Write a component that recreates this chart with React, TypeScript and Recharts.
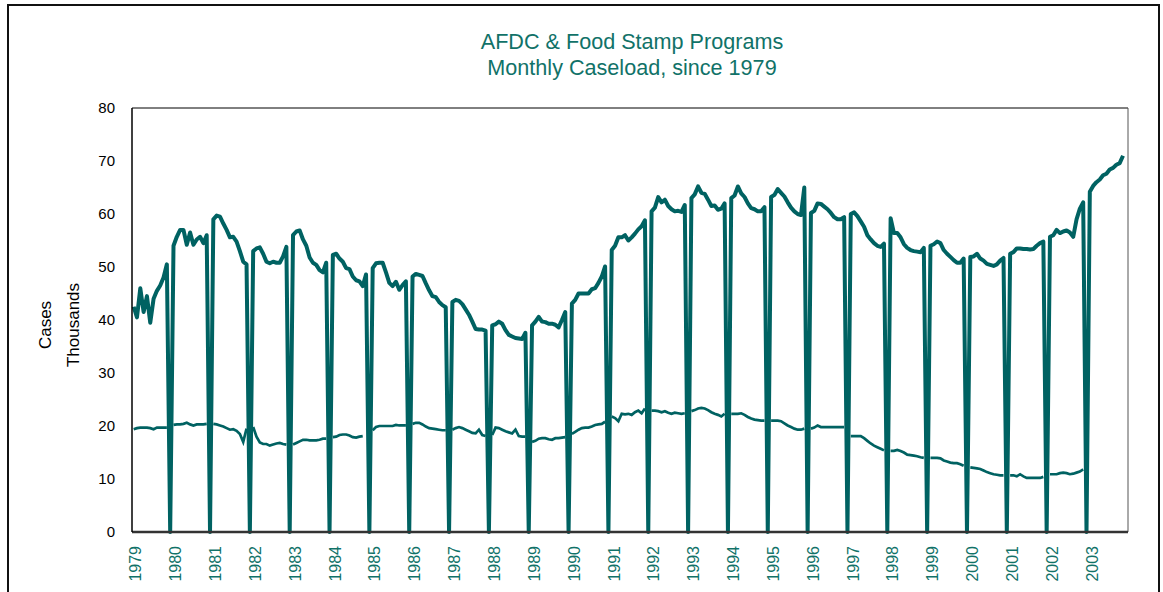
import React from 'react';
import { LineChart, Line, XAxis, YAxis, ReferenceLine } from 'recharts';

// Year tick labels (one tick at each January)
const yearLabels = [
  '1979', '1980', '1981', '1982', '1983', '1984', '1985', '1986', '1987',
  '1988', '1989', '1990', '1991', '1992', '1993', '1994', '1995', '1996',
  '1997', '1998', '1999', '2000', '2001', '2002', '2003',
];

const yTicks = [0, 10, 20, 30, 40, 50, 60, 70, 80];

// Food Stamp cases (thousands), Jan..Dec for each year
const foodStampCases: (number | null)[] = [
  42.5, 40.5, 46, 41.5, 44.5, 39.5, 44, 45.5, 46.5, 48, 50.5, 0,
  54, 55.7, 57, 57, 54.2, 56.5, 54.2, 55.2, 55.7, 54.5, 56, 0,
  59, 59.7, 59.5, 58.2, 57, 55.6, 55.7, 54.8, 53, 51, 50.5, 0,
  53, 53.5, 53.7, 52.5, 51, 50.7, 51, 50.8, 50.8, 52, 53.8, 0,
  56, 56.7, 56.9, 55.2, 54, 51.8, 50.8, 50.4, 49.4, 49, 50.8, 0,
  52.3, 52.5, 51.6, 51, 49.8, 49.6, 48.2, 47.5, 47.3, 46.4, 48.6, 0,
  49.8, 50.7, 50.8, 50.8, 49, 47, 46.4, 47.2, 45.7, 46.6, 47.3, 0,
  48.2, 48.7, 48.5, 48.3, 46.9, 45.6, 44.5, 44.3, 43.4, 42.8, 42.4, 0,
  43.4, 43.8, 43.6, 43, 42, 41, 39.7, 38.3, 38.2, 38.2, 38, 0,
  39, 39.2, 39.7, 39.3, 38.1, 37.2, 36.9, 36.6, 36.5, 36.4, 37.6, 0,
  39, 39.7, 40.6, 39.7, 39.6, 39.3, 39.3, 39.1, 38.6, 40, 41.5, 0,
  43.1, 43.8, 45, 45, 45, 45, 45.8, 46, 47, 48.2, 50.1, 0,
  53.2, 54, 55.6, 55.6, 56, 55, 55.6, 56.3, 57.1, 57.7, 58.8, 0,
  60.5, 61.2, 63.2, 62.2, 62.7, 61.5, 60.9, 60.5, 60.6, 60.4, 61.7, 0,
  63, 63.7, 65.2, 64, 63.8, 62.7, 61.5, 61.6, 60.8, 61, 62, 0,
  63, 63.5, 65.2, 63.9, 63.2, 62, 61.1, 60.9, 60.5, 60.5, 61.3, 0,
  63.2, 63.6, 64.7, 64, 63.3, 62.2, 61.2, 60.5, 60, 59.8, 65, 0,
  60.2, 60.6, 62, 61.9, 61.4, 60.9, 60.2, 59.4, 59, 59, 59.4, 0,
  60, 60.3, 59.6, 58.6, 57.6, 56, 55.2, 54.5, 54, 53.8, 54.4, 0,
  59.2, 56.4, 56.4, 55.6, 54.3, 53.6, 53.2, 53, 52.9, 52.8, 53.6, 0,
  54, 54.3, 54.8, 54.5, 53.2, 52.5, 51.9, 51.3, 50.8, 50.8, 51.6, 0,
  51.9, 52, 52.5, 51.6, 51.2, 50.6, 50.4, 50.2, 50.5, 51.2, 51.7, 0,
  52.5, 52.8, 53.5, 53.5, 53.4, 53.4, 53.3, 53.4, 54, 54.5, 54.8, 0,
  55.7, 56, 57, 56.4, 56.7, 56.9, 56.5, 55.7, 59, 61, 62.2, 0,
  64.2, 65.3, 66, 66.5, 67.3, 67.6, 68.4, 68.7, 69.3, 69.6, 71, null,
];

// AFDC cases (thousands), Jan..Dec for each year
const afdcCases: (number | null)[] = [
  19.4, 19.6, 19.7, 19.7, 19.7, 19.6, 19.4, 19.7, 19.7, 19.7, 19.7, null,
  20.2, 20.3, 20.3, 20.4, 20.6, 20.3, 20.1, 20.3, 20.3, 20.3, 20.4, null,
  20.4, 20.3, 20.1, 19.9, 19.6, 19.3, 19.4, 19.1, 18.5, 17, 19.5, null,
  19.8, 18, 16.9, 16.6, 16.6, 16.3, 16.5, 16.7, 16.8, 16.6, 16.5, null,
  16.5, 16.8, 17.1, 17.4, 17.4, 17.3, 17.3, 17.3, 17.4, 17.6, 17.6, null,
  17.9, 18, 18.3, 18.4, 18.4, 18.2, 17.9, 17.8, 18, 18.1, null, null,
  19.2, 19.8, 20, 20, 20, 20, 20, 20.2, 20.1, 20.1, 20.1, null,
  20.4, 20.6, 20.6, 20.3, 19.9, 19.6, 19.5, 19.4, 19.3, 19.2, 19.2, null,
  19.3, 19.6, 19.8, 19.6, 19.3, 19, 18.7, 18.6, 19.3, 18.3, 18.1, null,
  18.3, 19.7, 19.6, 19.3, 19, 18.8, 18.6, 19.3, 18.1, 18, 18, null,
  17, 17.2, 17.6, 17.7, 17.7, 17.5, 17.4, 17.7, 17.7, 17.8, 17.9, null,
  18.5, 18.9, 19.3, 19.6, 19.7, 19.7, 19.9, 20.2, 20.3, 20.4, 20.8, null,
  21.8, 21.5, 20.9, 22.3, 22.2, 22.3, 22.1, 22.6, 22.9, 22.4, 23.3, null,
  22.9, 22.9, 22.8, 22.6, 22.8, 22.5, 22.3, 22.5, 22.4, 22.3, 22.4, null,
  22.8, 23, 23.3, 23.4, 23.3, 23, 22.6, 22.3, 22.1, 21.8, 22.3, null,
  22.3, 22.3, 22.3, 22.4, 22.1, 21.7, 21.4, 21.2, 21.1, 21, 21, null,
  21, 21, 21, 20.9, 20.5, 20.1, 19.8, 19.5, 19.3, 19.3, 19.5, null,
  19.5, 19.7, 20.1, 19.8, 19.8, 19.8, 19.8, 19.8, 19.8, 19.8, 19.8, null,
  18.1, 18.1, 18.1, 18.1, 17.7, 17.2, 16.7, 16.3, 16, 15.7, 15.4, null,
  15.3, 15.3, 15.5, 15.3, 15, 14.6, 14.5, 14.4, 14.3, 14.1, 14, null,
  14, 14, 14, 13.9, 13.5, 13.3, 13.1, 13, 13, 12.8, 12.5, null,
  12.2, 12.1, 12, 11.9, 11.6, 11.3, 11.1, 10.9, 10.8, 10.7, 10.7, null,
  10.7, 10.7, 10.5, 10.9, 10.5, 10.2, 10.2, 10.2, 10.2, 10.2, 10.4, null,
  10.9, 10.9, 10.9, 11.1, 11.2, 11.1, 10.9, 11, 11.2, 11.4, 11.8, null,
  null, null, null, null, null, null, null, null, null, null, null, null,
];

const data = foodStampCases.map((v, i) => ({
  month: i,
  foodStamp: v,
  afdc: afdcCases[i],
}));

const xTicks = yearLabels.map((_, i) => i * 12);

const LINE = '#006262';
const TEXT_TEAL = '#117268';
const FONT = '"Liberation Sans", Arial, Helvetica, sans-serif';

const YearTick = (props: any) => {
  const { x, y, payload } = props;
  const label = yearLabels[Math.round(payload.value / 12)];
  return (
    <g transform={`translate(${x + 2},${y + 14})`}>
      <text
        transform="rotate(-90)"
        textAnchor="end"
        dy="0.36em"
        fill={TEXT_TEAL}
        fontSize={16}
        fontFamily={FONT}
      >
        {label}
      </text>
    </g>
  );
};

export default function App() {
  return (
    <div>
      <div
        style={{
          position: 'absolute',
          left: 7,
          top: 4,
          width: 1153,
          height: 588,
          boxSizing: 'border-box',
          borderLeft: '2px solid #111',
          borderTop: '2px solid #111',
          borderRight: '2px solid #111',
        }}
      />
      <div style={{ position: 'absolute', left: 0, top: 0, width: 1163, height: 592 }}>
        <LineChart
          width={1163}
          height={592}
          data={data}
          margin={{ top: 108, right: 35, left: 0, bottom: 0 }}
        >
          <XAxis
            dataKey="month"
            type="number"
            domain={[-0.5, 299.5]}
            ticks={xTicks}
            interval={0}
            tick={<YearTick />}
            tickLine={false}
            tickSize={0}
            tickMargin={0}
            height={60}
            axisLine={{ stroke: '#333', strokeWidth: 2.5 }}
          />
          <YAxis
            type="number"
            domain={[0, 80]}
            ticks={yTicks}
            interval={0}
            width={132}
            tickLine={false}
            tickSize={0}
            tickMargin={17}
            axisLine={{ stroke: '#000', strokeWidth: 1.5 }}
            tick={{ fill: '#000', fontSize: 15, fontFamily: FONT }}
          />
          <ReferenceLine y={80} stroke="#000" strokeWidth={1} />
          <ReferenceLine x={299.5} stroke="#555" strokeWidth={1} />
          <Line
            dataKey="afdc"
            type="linear"
            stroke={LINE}
            strokeWidth={2.7}
            dot={false}
            activeDot={false}
            connectNulls={false}
            isAnimationActive={false}
          />
          <Line
            dataKey="foodStamp"
            type="linear"
            stroke={LINE}
            strokeWidth={4}
            strokeLinejoin="round"
            dot={false}
            activeDot={false}
            connectNulls={false}
            isAnimationActive={false}
          />
        </LineChart>
      </div>
      <svg
        width={1163}
        height={592}
        style={{ position: 'absolute', left: 0, top: 0, pointerEvents: 'none' }}
      >
        <text x={632} y={48.5} textAnchor="middle" fill={TEXT_TEAL} fontSize={21.6} fontFamily={FONT}>
          AFDC &amp; Food Stamp Programs
        </text>
        <text x={632} y={74.5} textAnchor="middle" fill={TEXT_TEAL} fontSize={21.6} fontFamily={FONT}>
          Monthly Caseload, since 1979
        </text>
        <text
          transform="translate(45,325) rotate(-90)"
          textAnchor="middle"
          dy="0.36em"
          fill="#000"
          fontSize={17}
          fontFamily={FONT}
        >
          Cases
        </text>
        <text
          transform="translate(73,325) rotate(-90)"
          textAnchor="middle"
          dy="0.36em"
          fill="#000"
          fontSize={17}
          fontFamily={FONT}
        >
          Thousands
        </text>
      </svg>
    </div>
  );
}
